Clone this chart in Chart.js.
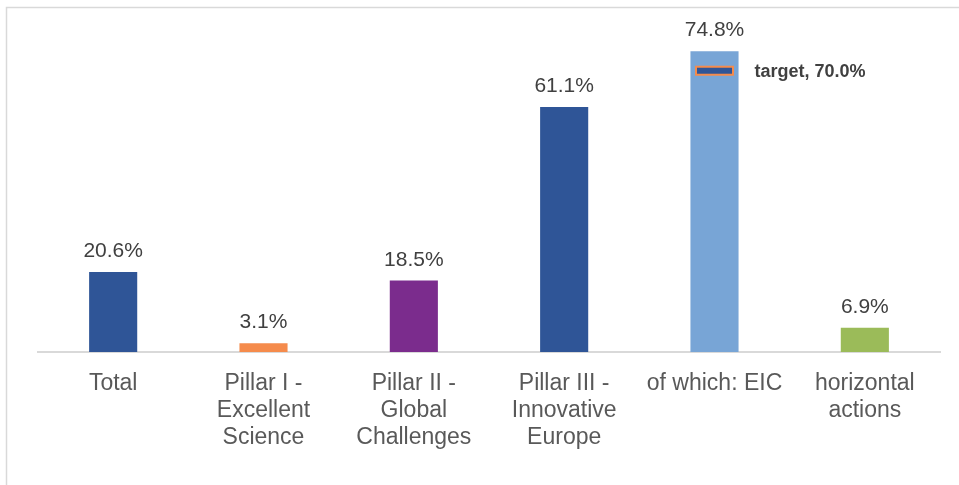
<!DOCTYPE html>
<html>
<head>
<meta charset="utf-8">
<script src="https://cdn.jsdelivr.net/npm/chart.js@4"></script>
<style>
  html, body { margin: 0; padding: 0; background: #ffffff; }
  #wrap { position: relative; width: 959px; height: 485px; }
</style>
</head>
<body>
<div id="wrap"><canvas id="shareChart"></canvas></div>
<script>
// Categorias e valores (%)
const categorias = [
    ['Total'],
    ['Pillar I -', 'Excellent', 'Science'],
    ['Pillar II -', 'Global', 'Challenges'],
    ['Pillar III -', 'Innovative', 'Europe'],
    ['of which: EIC'],
    ['horizontal', 'actions']
];
const valores = [20.6, 3.1, 18.5, 61.1, 74.8, 6.9];
const coresBarras = ['#2f5597', '#f58b4c', '#7b2c8d', '#2f5597', '#78a5d6', '#9bbb59'];

// Meta (apenas para a barra do EIC)
const metas = [null, null, null, null, 70.0];
const metaTexto = 'target, 70.0%';

const FONTE = "'Liberation Sans', Arial, sans-serif";

// Moldura cinza (esquerda e topo)
const moldura = {
    id: 'moldura',
    beforeDraw(chart) {
        const c = chart.ctx;
        c.save();
        c.strokeStyle = '#d9d9d9';
        c.lineWidth = 1.5;
        c.beginPath();
        c.moveTo(6.5, 485);
        c.lineTo(6.5, 7.5);
        c.lineTo(959, 7.5);
        c.stroke();
        c.restore();
    }
};

// Rótulos de valor acima das barras + marcador de meta
const rotulos = {
    id: 'rotulos',
    afterDatasetsDraw(chart) {
        const c = chart.ctx;
        const meta = chart.getDatasetMeta(0);
        const y = chart.scales.y;
        c.save();
        c.fillStyle = '#404040';
        c.font = '21px ' + FONTE;
        c.textAlign = 'center';
        c.textBaseline = 'alphabetic';
        meta.data.forEach((bar, i) => {
            c.fillText(valores[i].toFixed(1) + '%', bar.x, bar.y - 15);
        });

        metas.forEach((m, i) => {
            if (m === null) return;
            const bar = meta.data[i];
            const py = y.getPixelForValue(m);
            const w = 37, h = 8;
            c.fillStyle = '#2f5597';
            c.fillRect(bar.x - w / 2, py - h / 2, w, h);
            c.strokeStyle = '#f58b4c';
            c.lineWidth = 2;
            c.strokeRect(bar.x - w / 2, py - h / 2, w, h);
            c.fillStyle = '#404040';
            c.font = 'bold 18px ' + FONTE;
            c.textAlign = 'left';
            c.textBaseline = 'middle';
            c.fillText(metaTexto, bar.x + 40, py + 1);
        });
        c.restore();
    }
};

const ctx = document.getElementById('shareChart').getContext('2d');

new Chart(ctx, {
    type: 'bar',
    data: {
        labels: categorias,
        datasets: [{
            data: valores,
            backgroundColor: coresBarras,
            borderWidth: 0,
            categoryPercentage: 1.0,
            barPercentage: 0.32
        }]
    },
    options: {
        responsive: true,
        maintainAspectRatio: false,
        animation: false,
        layout: { padding: { left: 38, right: 19, top: 30, bottom: 0 } },
        plugins: {
            legend: { display: false },
            tooltip: { enabled: false }
        },
        scales: {
            x: {
                grid: { display: false },
                border: { display: true, color: '#d9d9d9', width: 2 },
                ticks: {
                    color: '#595959',
                    font: { size: 23, family: FONTE, lineHeight: '27px' },
                    padding: 10,
                    maxRotation: 0,
                    autoSkip: false
                },
                afterFit(scale) { scale.height = 133; }
            },
            y: {
                display: false,
                // base ligeiramente acima de zero, como no gráfico original
                min: 0.96,
                max: 80
            }
        }
    },
    plugins: [moldura, rotulos]
});
</script>
</body>
</html>
